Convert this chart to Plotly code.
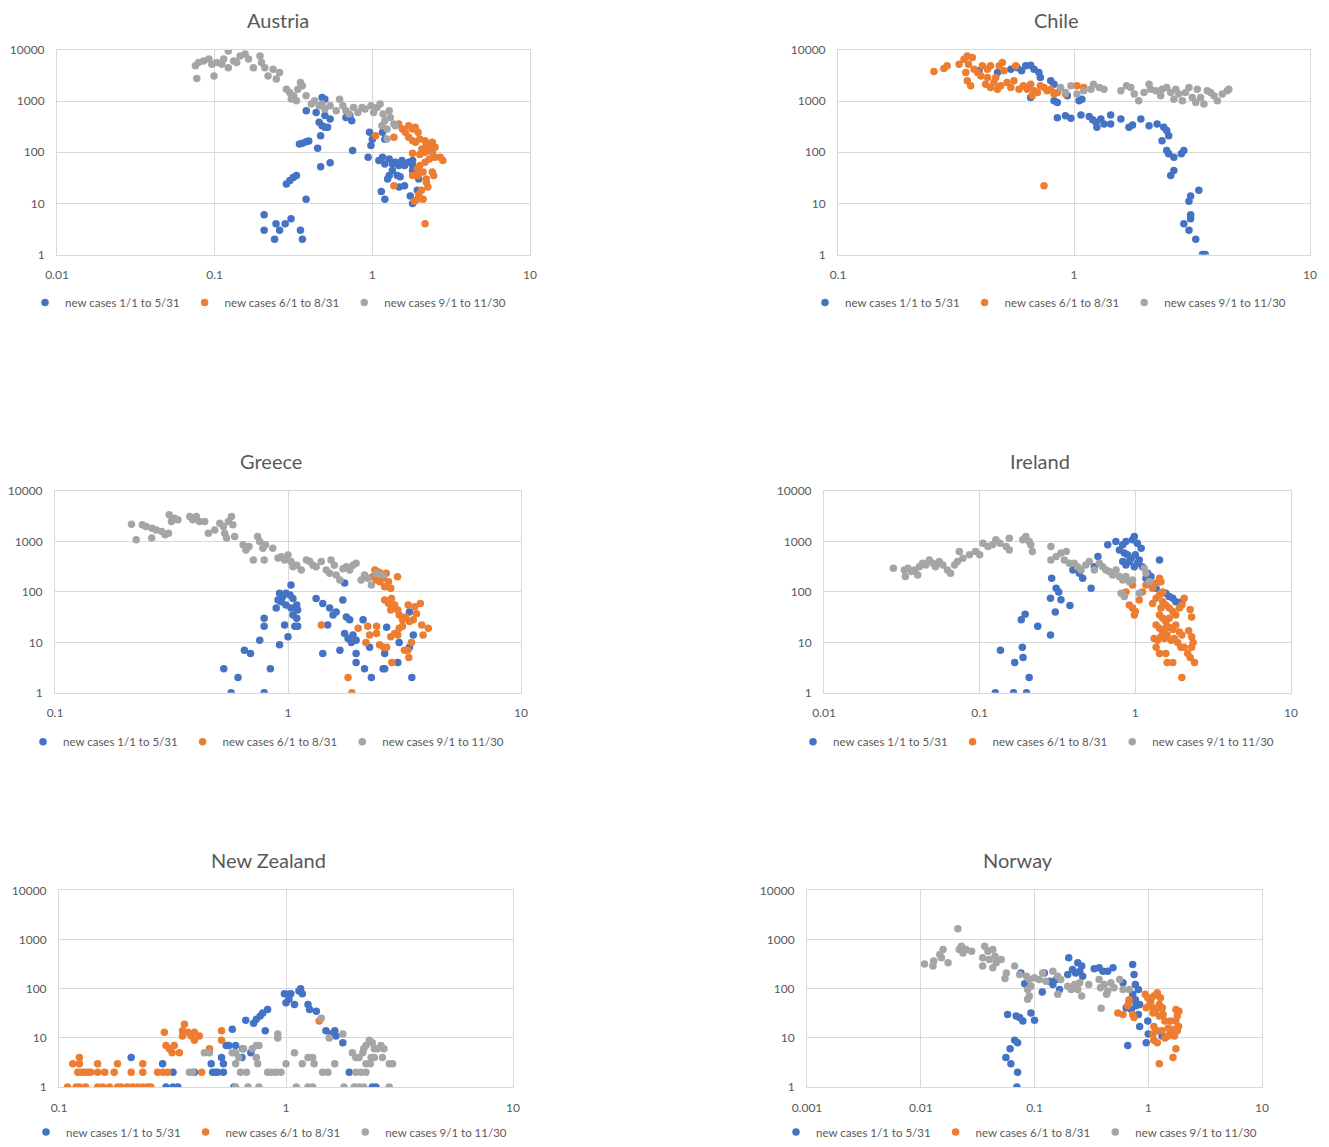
import plotly.graph_objects as go

# (ratio, new cases) pairs for each country and period
AUSTRIA_JAN_MAY = [
    (0.381, 650), (0.44, 600), (0.48, 1180), (0.5, 520), (0.54, 445), (0.46, 384), (0.48, 330), (0.5, 307),
    (0.52, 307), (0.47, 211), (0.345, 145), (0.36, 150), (0.38, 160), (0.395, 165), (0.45, 120), (0.54, 62),
    (0.47, 52), (0.285, 24), (0.3, 28), (0.315, 32), (0.33, 35), (0.38, 12), (0.206, 6), (0.206, 3), (0.24, 2),
    (0.245, 4), (0.258, 3), (0.28, 4), (0.305, 5), (0.35, 3), (0.36, 2), (0.68, 480), (0.72, 520), (0.74, 414),
    (0.5, 1090), (0.75, 108), (0.96, 245), (0.98, 135), (0.94, 80), (1.0, 180), (1.1, 69), (1.16, 80), (1.2, 59),
    (1.28, 74), (1.34, 59), (1.4, 64), (1.47, 55), (1.54, 69), (1.6, 55), (1.7, 64), (1.8, 55), (1.34, 44),
    (1.44, 35), (1.5, 33), (1.28, 35), (1.25, 30), (1.48, 21), (1.6, 22), (1.14, 17), (1.2, 12), (1.74, 14),
    (1.8, 10), (1.93, 18), (1.97, 30), (1.16, 245), (1.2, 180), (1.8, 44), (1.8, 69),
]
AUSTRIA_JUN_AUG = [
    (1.05, 211), (1.37, 196), (1.37, 22), (2.16, 4), (1.47, 356), (1.55, 285), (1.62, 245), (1.7, 330), (1.8, 285),
    (1.87, 307), (1.95, 245), (1.7, 196), (1.8, 168), (1.88, 156), (2.0, 182), (2.16, 168), (2.2, 145), (2.3, 135),
    (2.4, 156), (2.5, 125), (2.06, 116), (2.16, 100), (2.25, 108), (2.4, 100), (2.5, 80), (2.8, 69), (2.7, 80),
    (2.3, 74), (2.16, 64), (2.0, 55), (1.93, 47), (1.8, 35), (1.95, 35), (2.1, 41), (2.4, 41), (2.45, 35),
    (2.2, 26), (2.25, 21), (2.05, 18), (1.97, 15), (2.1, 12), (1.93, 12), (1.85, 11), (2.2, 30), (2.0, 90),
    (1.8, 95),
]
AUSTRIA_SEP_NOV = [
    (0.0755, 4880), (0.077, 2760), (0.079, 5650), (0.085, 6100), (0.092, 6650), (0.099, 3100), (0.096, 5250),
    (0.103, 5650), (0.111, 5250), (0.114, 6650), (0.122, 9550), (0.122, 4500), (0.132, 6100), (0.138, 5650),
    (0.145, 7600), (0.156, 8300), (0.164, 6650), (0.176, 4500), (0.194, 7600), (0.198, 5650), (0.208, 4500),
    (0.218, 3100), (0.235, 4200), (0.246, 2700), (0.258, 3600), (0.285, 1710), (0.299, 1470), (0.317, 1270),
    (0.337, 1710), (0.35, 2300), (0.36, 1990), (0.306, 1100), (0.33, 1015), (0.38, 1270), (0.41, 874),
    (0.43, 1015), (0.46, 810), (0.48, 874), (0.5, 700), (0.54, 810), (0.59, 650), (0.62, 1090), (0.65, 810),
    (0.68, 650), (0.71, 560), (0.76, 750), (0.81, 600), (0.86, 750), (0.9, 700), (0.98, 810), (1.02, 600),
    (1.07, 750), (1.12, 874), (1.17, 560), (1.2, 414), (1.28, 650), (1.3, 480), (1.37, 356), (1.4, 330),
    (1.24, 285), (1.15, 330), (1.24, 182),
]

CHILE_JAN_MAY = [
    (0.396, 3900), (0.474, 3620), (0.54, 4200), (0.575, 4500), (0.6, 3900), (0.624, 4900), (0.655, 5000),
    (0.677, 4200), (0.71, 3620), (0.72, 2900), (0.797, 2490), (0.823, 2140), (0.655, 1180), (0.823, 1015),
    (0.85, 940), (0.937, 1270), (1.05, 1015), (1.08, 1090), (0.85, 473), (0.92, 518), (0.97, 460), (1.07, 534),
    (1.16, 500), (1.2, 433), (1.24, 384), (1.25, 307), (1.3, 445), (1.34, 356), (1.43, 534), (1.43, 356),
    (1.58, 445), (1.71, 307), (1.77, 340), (1.92, 445), (2.08, 330), (2.25, 356), (2.4, 307), (2.47, 265),
    (2.52, 211), (2.36, 168), (2.47, 108), (2.52, 93), (2.65, 80), (2.85, 93), (2.92, 108), (2.65, 44),
    (2.57, 35), (3.38, 18), (3.12, 14), (3.07, 11), (3.12, 6), (3.12, 5), (2.92, 4), (3.07, 3), (3.28, 2),
    (3.5, 1), (3.6, 1),
]
CHILE_JUN_AUG = [
    (0.255, 3790), (0.281, 4350), (0.29, 4900), (0.326, 5250), (0.342, 6600), (0.353, 7600), (0.371, 7100),
    (0.357, 5250), (0.348, 3620), (0.353, 2490), (0.365, 1990), (0.377, 4200), (0.39, 3620), (0.403, 3100),
    (0.409, 4900), (0.43, 4200), (0.443, 4900), (0.422, 2140), (0.443, 1850), (0.458, 2300), (0.466, 2900),
    (0.482, 4900), (0.497, 5650), (0.505, 3900), (0.474, 1710), (0.489, 1990), (0.52, 2300), (0.54, 1850),
    (0.557, 2490), (0.566, 4900), (0.585, 1710), (0.61, 1990), (0.634, 1710), (0.655, 2140), (0.677, 1590),
    (0.7, 1470), (0.72, 1990), (0.746, 1850), (0.77, 1590), (0.797, 1710), (0.823, 1370), (0.85, 1470),
    (0.92, 1370), (1.03, 1990), (1.1, 1850), (0.746, 22), (0.665, 1270), (0.43, 2900),
]
CHILE_SEP_NOV = [
    (0.878, 1850), (0.92, 1470), (0.97, 1990), (1.03, 1370), (1.1, 1590), (1.18, 1710), (1.21, 2140),
    (1.28, 1850), (1.34, 1710), (1.58, 1590), (1.67, 1990), (1.74, 1850), (1.8, 1370), (1.88, 1015),
    (1.98, 1470), (2.08, 2140), (2.11, 1710), (2.22, 1590), (2.33, 1270), (2.36, 1710), (2.47, 1850),
    (2.57, 1470), (2.65, 1090), (2.7, 1710), (2.78, 1370), (2.88, 1015), (2.97, 1470), (3.07, 1850),
    (3.17, 1180), (3.28, 940), (3.33, 1710), (3.44, 1180), (3.55, 874), (3.67, 1590), (3.79, 1470),
    (3.92, 1270), (4.05, 1015), (4.25, 1370), (4.46, 1590), (4.53, 1710),
]

GREECE_JAN_MAY = [
    (1.03, 138), (0.92, 94), (0.95, 81), (0.98, 94), (1.02, 87), (1.05, 74), (0.906, 69), (0.936, 64),
    (0.98, 55), (1.03, 48), (1.09, 55), (1.1, 44), (0.89, 48), (1.05, 35), (1.09, 30), (1.1, 21), (1.07, 21),
    (0.967, 22), (1.0, 13), (0.92, 9), (0.79, 30), (0.79, 21), (0.756, 11), (0.65, 7), (0.69, 6), (0.53, 3),
    (0.61, 2), (0.57, 1), (0.79, 1), (0.84, 3), (1.32, 74), (1.41, 59), (1.51, 48), (1.56, 35), (1.61, 40),
    (1.72, 69), (1.78, 32), (1.84, 28), (1.75, 150), (1.75, 15), (1.81, 12), (1.9, 14), (1.87, 10), (1.96, 11),
    (2.1, 28), (1.48, 22), (1.41, 6), (1.67, 7), (1.96, 6), (1.96, 4), (2.13, 3), (2.28, 2), (2.56, 3),
    (2.6, 3), (2.6, 6), (2.65, 20), (2.96, 4), (3.0, 10), (3.32, 8), (3.45, 14), (3.4, 2), (3.32, 40), (2.24, 8),
]
GREECE_JUN_AUG = [
    (2.36, 272), (2.44, 250), (2.5, 235), (2.3, 200), (2.4, 173), (2.48, 160), (2.56, 188), (2.64, 235),
    (2.7, 160), (2.76, 118), (2.6, 127), (2.95, 200), (2.6, 69), (2.7, 59), (2.78, 74), (2.87, 55), (2.76, 44),
    (2.96, 44), (3.0, 35), (3.1, 28), (3.2, 32), (3.32, 26), (3.45, 28), (3.56, 37), (3.7, 59), (3.5, 51),
    (3.28, 55), (3.1, 21), (3.0, 19), (2.96, 14), (2.87, 15), (2.76, 13), (3.75, 22), (4.0, 19), (3.8, 14),
    (3.39, 10), (3.27, 7), (3.16, 7), (3.3, 5), (2.47, 9), (2.57, 8), (2.65, 8), (2.79, 4), (2.16, 10),
    (2.24, 14), (2.2, 21), (2.4, 21), (2.0, 19), (1.39, 22), (1.81, 2), (1.88, 1), (2.4, 15),
]
GREECE_SEP_NOV = [
    (0.213, 2210), (0.223, 1080), (0.237, 2150), (0.246, 2000), (0.261, 1840), (0.26, 1170), (0.272, 1700),
    (0.287, 1580), (0.297, 1360), (0.307, 1460), (0.309, 3400), (0.316, 2500), (0.326, 2900), (0.337, 2700),
    (0.379, 3140), (0.39, 2700), (0.404, 3140), (0.417, 2500), (0.439, 2500), (0.455, 1460), (0.485, 1700),
    (0.51, 2320), (0.528, 2000), (0.535, 1460), (0.545, 1170), (0.555, 2500), (0.572, 3140), (0.58, 2150),
    (0.59, 1260), (0.642, 860), (0.66, 680), (0.68, 800), (0.71, 430), (0.74, 1260), (0.756, 1000),
    (0.78, 740), (0.79, 430), (0.8, 860), (0.86, 740), (0.906, 470), (0.935, 500), (0.966, 430), (1.0, 540),
    (1.03, 400), (1.05, 318), (1.09, 340), (1.14, 272), (1.2, 430), (1.24, 400), (1.28, 340), (1.32, 318),
    (1.39, 400), (1.46, 272), (1.51, 235), (1.53, 430), (1.58, 340), (1.61, 218), (1.67, 173), (1.72, 290),
    (1.78, 318), (1.84, 272), (1.9, 340), (1.96, 370), (2.06, 173), (2.13, 218), (2.2, 188), (2.28, 138),
    (2.39, 235), (2.56, 218),
]

IRELAND_JAN_MAY = [
    (0.665, 860), (0.75, 1000), (0.83, 860), (0.87, 1000), (0.96, 1080), (0.985, 1260), (1.03, 927),
    (1.09, 738), (0.79, 680), (0.85, 590), (0.89, 545), (0.94, 466), (1.0, 545), (1.06, 432), (0.83, 400),
    (0.87, 344), (0.915, 400), (0.985, 318), (1.03, 371), (1.11, 318), (1.2, 235), (1.26, 202), (1.29, 138),
    (1.43, 432), (1.36, 118), (1.17, 187), (0.575, 505), (0.545, 318), (0.459, 187), (0.52, 118), (0.437, 235),
    (0.397, 274), (0.29, 187), (0.31, 118), (0.322, 100), (0.285, 75), (0.333, 70), (0.306, 40), (0.38, 54),
    (0.285, 14), (0.236, 21), (0.196, 36), (0.185, 28), (0.136, 7), (0.188, 8), (0.168, 4), (0.19, 5),
    (0.208, 2), (0.126, 1), (0.165, 1), (0.2, 1), (1.65, 81), (1.74, 75), (1.82, 64), (1.99, 64), (1.57, 94),
]
IRELAND_JUN_AUG = [
    (0.87, 100), (0.96, 138), (0.915, 55), (0.96, 48), (1.0, 41), (0.985, 35), (1.06, 69), (1.11, 100),
    (1.17, 138), (1.23, 160), (1.29, 118), (1.36, 150), (1.43, 187), (1.46, 160), (1.29, 59), (1.36, 75),
    (1.43, 87), (1.5, 100), (1.5, 64), (1.57, 55), (1.65, 48), (1.46, 48), (1.43, 35), (1.5, 30), (1.57, 26),
    (1.65, 30), (1.74, 41), (1.82, 35), (1.92, 48), (1.99, 55), (2.06, 75), (1.36, 22), (1.43, 19), (1.5, 16),
    (1.57, 19), (1.65, 20), (1.74, 18), (1.82, 22), (1.92, 16), (1.99, 14), (1.32, 12), (1.39, 11), (1.46, 13),
    (1.54, 12), (1.6, 14), (1.7, 11), (1.78, 12), (1.87, 10), (1.96, 8), (2.06, 8), (1.36, 8), (1.43, 6),
    (1.57, 6), (1.74, 4), (1.6, 4), (1.99, 2), (2.17, 6), (2.3, 32), (2.3, 13), (2.35, 10), (2.4, 4),
    (2.3, 8), (2.25, 5), (2.2, 17), (2.25, 45),
]
IRELAND_SEP_NOV = [
    (0.0279, 295), (0.0328, 274), (0.0333, 202), (0.0346, 295), (0.0364, 254), (0.0381, 274), (0.04, 218),
    (0.041, 318), (0.043, 371), (0.045, 344), (0.0475, 432), (0.05, 371), (0.052, 318), (0.055, 400),
    (0.058, 344), (0.062, 274), (0.065, 235), (0.069, 344), (0.072, 400), (0.074, 632), (0.078, 466),
    (0.086, 545), (0.094, 632), (0.1, 545), (0.105, 927), (0.113, 795), (0.121, 860), (0.127, 1080),
    (0.135, 927), (0.148, 795), (0.155, 1165), (0.155, 680), (0.189, 1080), (0.198, 1260), (0.208, 1000),
    (0.213, 860), (0.218, 632), (0.287, 795), (0.287, 432), (0.31, 505), (0.333, 590), (0.35, 432),
    (0.36, 632), (0.377, 371), (0.405, 371), (0.426, 318), (0.448, 274), (0.48, 344), (0.506, 400),
    (0.545, 274), (0.587, 371), (0.617, 318), (0.648, 274), (0.68, 254), (0.715, 218), (0.751, 274),
    (0.79, 202), (0.83, 173), (0.87, 202), (0.915, 160), (0.81, 94), (0.85, 81), (0.96, 173), (1.06, 94),
    (1.14, 295), (1.17, 235), (1.23, 160),
]

NEW_ZEALAND_JAN_MAY = [
    (0.208, 4), (0.286, 3), (0.318, 2), (0.296, 1), (0.318, 1), (0.334, 1), (0.395, 2), (0.468, 3), (0.475, 2),
    (0.49, 2), (0.5, 2), (0.53, 2), (0.52, 4), (0.53, 3), (0.545, 7), (0.56, 7), (0.6, 7), (0.58, 15),
    (0.64, 4), (0.645, 6), (0.7, 5), (0.665, 23), (0.72, 20), (0.74, 24), (0.77, 28), (0.79, 32), (0.83, 38),
    (0.81, 14), (0.59, 1), (0.984, 79), (1.02, 77), (1.05, 79), (1.0, 52), (1.09, 48), (1.03, 61), (1.14, 90),
    (1.18, 79), (1.16, 100), (1.25, 48), (1.27, 38), (1.36, 35), (1.5, 14), (1.58, 12), (1.64, 14),
    (1.66, 11), (1.78, 8), (2.4, 1), (2.49, 1), (1.9, 2),
]
NEW_ZEALAND_JUN_AUG = [
    (0.109, 1), (0.119, 1), (0.123, 1), (0.131, 1), (0.148, 1), (0.156, 1), (0.167, 1), (0.181, 1), (0.188, 1),
    (0.2, 1), (0.211, 1), (0.222, 1), (0.234, 1), (0.246, 1), (0.254, 1), (0.121, 2), (0.125, 2), (0.129, 2),
    (0.134, 2), (0.138, 2), (0.148, 2), (0.159, 2), (0.175, 2), (0.208, 2), (0.234, 2), (0.272, 2), (0.287, 2),
    (0.301, 2), (0.425, 2), (0.115, 3), (0.123, 3), (0.148, 3), (0.181, 3), (0.234, 3), (0.123, 4),
    (0.291, 13), (0.296, 7), (0.306, 6), (0.322, 7), (0.315, 5), (0.339, 5), (0.357, 19), (0.35, 14),
    (0.37, 13), (0.382, 11), (0.35, 11), (0.395, 13), (0.415, 11), (0.395, 9), (0.46, 6), (0.52, 14),
    (0.52, 9), (1.4, 22),
]
NEW_ZEALAND_SEP_NOV = [
    (0.437, 5), (0.46, 5), (0.375, 2), (0.388, 2), (0.63, 2), (0.67, 2), (0.83, 2), (0.86, 2), (0.9, 2),
    (0.95, 2), (0.6, 1), (0.68, 1), (0.76, 1), (1.11, 1), (1.25, 1), (1.31, 1), (1.8, 1), (2.0, 1), (2.1, 1),
    (2.2, 1), (2.85, 1), (0.6, 5), (0.62, 4), (0.65, 6), (0.71, 6), (0.74, 7), (0.76, 7), (0.58, 5), (0.6, 3),
    (0.74, 4), (0.75, 3), (0.92, 12), (0.92, 10), (1.0, 3), (1.09, 5), (1.18, 3), (1.25, 4), (1.31, 4),
    (1.33, 3), (1.43, 25), (1.55, 10), (1.64, 3), (1.78, 12), (1.45, 2), (1.53, 2), (1.96, 5), (2.03, 4),
    (2.1, 4), (2.18, 5), (2.2, 6), (2.25, 7), (2.33, 9), (2.4, 8), (2.45, 6), (2.53, 6), (2.62, 7), (2.7, 6),
    (2.45, 4), (2.25, 3), (2.35, 3), (2.85, 3), (2.95, 3), (2.03, 2), (2.14, 2), (2.25, 2), (2.66, 4), (2.37, 4),
]

NORWAY_JAN_MAY = [
    (0.076, 210), (0.082, 127), (0.058, 30), (0.069, 28), (0.074, 26), (0.079, 22), (0.093, 32), (0.1, 23),
    (0.067, 9), (0.071, 8), (0.061, 6), (0.056, 4), (0.062, 3), (0.071, 2), (0.07, 1), (0.117, 86),
    (0.122, 210), (0.136, 143), (0.145, 122), (0.155, 155), (0.166, 97), (0.2, 425), (0.216, 247), (0.23, 210),
    (0.25, 228), (0.24, 337), (0.26, 290), (0.265, 180), (0.196, 195), (0.335, 254), (0.37, 267), (0.4, 228),
    (0.44, 228), (0.49, 267), (0.73, 310), (0.75, 195), (0.77, 122), (0.82, 97), (0.73, 77), (0.68, 56),
    (0.64, 41), (0.71, 38), (0.78, 45), (0.82, 30), (0.75, 28), (0.84, 48), (0.77, 60), (0.66, 7), (0.84, 17),
    (0.99, 22), (1.0, 12), (0.96, 8), (1.32, 41), (1.32, 11), (0.6, 133),
]
NORWAY_JUN_AUG = [
    (0.54, 32), (0.6, 30), (0.66, 45), (0.68, 60), (0.73, 30), (0.75, 26), (0.94, 77), (0.99, 66), (1.05, 56),
    (1.12, 71), (1.2, 83), (1.28, 66), (1.25, 48), (1.32, 41), (1.1, 41), (1.16, 35), (1.25, 28), (1.35, 30),
    (1.4, 22), (1.12, 17), (1.2, 14), (1.1, 12), (1.12, 9), (1.2, 8), (1.25, 3), (1.32, 14), (1.5, 16),
    (1.57, 13), (1.7, 15), (1.7, 11), (1.8, 14), (1.85, 17), (1.75, 22), (1.8, 28), (1.86, 35), (1.75, 38),
    (1.57, 22), (1.65, 4), (1.75, 6), (1.5, 11), (1.4, 10), (1.03, 48), (0.96, 41), (1.1, 32),
]
NORWAY_SEP_NOV = [
    (0.0212, 1670), (0.0108, 320), (0.0128, 290), (0.013, 365), (0.0147, 500), (0.0157, 630), (0.0152, 425),
    (0.0174, 337), (0.0218, 630), (0.0235, 535), (0.025, 630), (0.028, 580), (0.0228, 730), (0.0365, 730),
    (0.039, 580), (0.043, 630), (0.035, 425), (0.035, 290), (0.04, 395), (0.045, 460), (0.046, 337),
    (0.051, 395), (0.043, 267), (0.0565, 210), (0.055, 162), (0.067, 290), (0.074, 195), (0.085, 180),
    (0.09, 155), (0.093, 113), (0.087, 97), (0.09, 71), (0.087, 61), (0.1, 167), (0.11, 155), (0.118, 210),
    (0.126, 143), (0.145, 228), (0.16, 180), (0.17, 155), (0.16, 77), (0.196, 113), (0.21, 97), (0.225, 122),
    (0.24, 97), (0.26, 71), (0.25, 133), (0.3, 122), (0.37, 155), (0.38, 105), (0.41, 122), (0.44, 90),
    (0.385, 40), (0.47, 133), (0.5, 105), (0.56, 155), (0.6, 97), (0.68, 97), (0.43, 77),
]

PERIODS = ["new cases 1/1 to 5/31", "new cases 6/1 to 8/31", "new cases 9/1 to 11/30"]
X_TICKS = [0.001, 0.01, 0.1, 1, 10]
X_TICK_TEXT = ["0.001", "0.01", "0.1", "1", "10"]
Y_TICKS = [1, 10, 100, 1000, 10000]
Y_TICK_TEXT = ["1", "10", "100", "1000", "10000"]

FIG_W, FIG_H = 1329, 1147
COLORS = ["#4472C4", "#ED7D31", "#A5A5A5"]
FONT = "Lato, 'Open Sans', sans-serif"
TEXT_GRAY = "#595959"
GRID = "#D9D9D9"

# title, series, x decades, plot box (left, right, top, bottom px), title centre,
# first legend marker (x, y)
panels = [
    ("Austria", (AUSTRIA_JAN_MAY, AUSTRIA_JUN_AUG, AUSTRIA_SEP_NOV), (-2, 1),
     (57, 530, 50, 255), (278, 20), (55, 303)),
    ("Chile", (CHILE_JAN_MAY, CHILE_JUN_AUG, CHILE_SEP_NOV), (-1, 1),
     (838, 1310, 50, 255), (1056, 20), (835, 303)),
    ("Greece", (GREECE_JAN_MAY, GREECE_JUN_AUG, GREECE_SEP_NOV), (-1, 1),
     (55, 521, 492, 694), (271, 462), (53, 743)),
    ("Ireland", (IRELAND_JAN_MAY, IRELAND_JUN_AUG, IRELAND_SEP_NOV), (-2, 1),
     (824, 1291, 492, 694), (1040, 462), (823, 743)),
    ("New Zealand", (NEW_ZEALAND_JAN_MAY, NEW_ZEALAND_JUN_AUG, NEW_ZEALAND_SEP_NOV), (-1, 1),
     (59, 513, 892, 1089), (268, 862), (56, 1134)),
    ("Norway", (NORWAY_JAN_MAY, NORWAY_JUN_AUG, NORWAY_SEP_NOV), (-3, 1),
     (807, 1262, 892, 1089), (1018, 862), (806, 1134)),
]

# Plotly draws the legend symbol ~20 px right of the legend's left edge and the
# text ~40 px; split the difference so symbol and text both sit near their spots
LEGEND_SYMBOL_OFFSET = 30


def px_x(v):
    return v / FIG_W


def px_y(v):
    return 1 - v / FIG_H


fig = go.Figure()
layout = {}
annotations = []

for i, (title, series, xr, box, title_xy, legend_xy) in enumerate(panels):
    n = "" if i == 0 else str(i + 1)
    legend_key = "legend" + n
    left, right, top, bottom = box

    for name, color, pts in zip(PERIODS, COLORS, series):
        fig.add_trace(go.Scatter(
            x=[p[0] for p in pts],
            y=[p[1] for p in pts],
            mode="markers",
            name=name,
            marker=dict(color=color, size=7.5, line=dict(width=0)),
            xaxis="x" + n,
            yaxis="y" + n,
            legend=legend_key,
        ))

    axis_common = dict(
        type="log",
        showgrid=True, gridcolor=GRID, gridwidth=1,
        zeroline=False,
        showline=True, linecolor=GRID, linewidth=1, mirror=True,
        ticks="",
        automargin=False,
        tickfont=dict(family=FONT, size=12, color=TEXT_GRAY),
        fixedrange=True,
    )
    layout["xaxis" + n] = dict(
        axis_common,
        domain=[px_x(left), px_x(right)],
        anchor="y" + n,
        range=list(xr),
        tickvals=X_TICKS,
        ticktext=X_TICK_TEXT,
        ticklabelstandoff=9,
    )
    layout["yaxis" + n] = dict(
        axis_common,
        domain=[px_y(bottom), px_y(top)],
        anchor="x" + n,
        range=[0, 4],
        tickvals=Y_TICKS,
        ticktext=Y_TICK_TEXT,
        ticklabelstandoff=9,
    )
    layout[legend_key] = dict(
        orientation="h",
        x=px_x(legend_xy[0] - LEGEND_SYMBOL_OFFSET), xanchor="left",
        y=px_y(legend_xy[1]), yanchor="middle",
        font=dict(family=FONT, size=11.5, color=TEXT_GRAY),
        bgcolor="rgba(0,0,0,0)",
        itemclick=False, itemdoubleclick=False,
    )
    annotations.append(dict(
        text=title, showarrow=False,
        x=px_x(title_xy[0]), y=px_y(title_xy[1]),
        xref="paper", yref="paper", xanchor="center", yanchor="middle",
        font=dict(family=FONT, size=20, color=TEXT_GRAY),
    ))

fig.update_layout(
    template="none",
    width=FIG_W, height=FIG_H,
    margin=dict(l=0, r=0, t=0, b=0),
    paper_bgcolor="white", plot_bgcolor="white",
    font=dict(family=FONT, color=TEXT_GRAY),
    annotations=annotations,
    **layout,
)

fig.write_html("out.html")
